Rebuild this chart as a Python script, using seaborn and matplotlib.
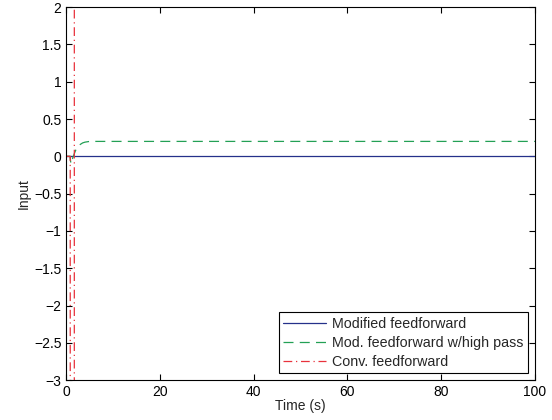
import numpy as np
import pandas as pd
import matplotlib
matplotlib.use('Agg')
import matplotlib.pyplot as plt
import seaborn as sns

# series
t_mod = [0, 100]
u_mod = [0, 0]

t_hp = [0, 0.8, 1.0, 1.2, 1.5, 2.0, 2.5, 3.0, 3.5, 4.0, 5.0, 6.0, 100]
u_hp = [0, 0, -0.1, -0.06, 0.0, 0.08, 0.13, 0.16, 0.18, 0.19, 0.2, 0.2, 0.2]

t_conv = [0, 0.85, 0.9, 1.7, 1.75]
u_conv = [0, 0, -40, -40, 40]

labels = ['Modified feedforward', 'Mod. feedforward w/high pass', 'Conv. feedforward']

sns.set_style('ticks')
plt.rcParams['font.family'] = ['Liberation Sans', 'DejaVu Sans']
plt.rcParams['xtick.direction'] = 'in'
plt.rcParams['ytick.direction'] = 'in'

fig = plt.figure(figsize=(5.52, 4.2), dpi=100)
ax = fig.add_axes([0.12, 0.095, 0.849, 0.888])

sns.lineplot(x=t_mod, y=u_mod, ax=ax, color='#25318a', lw=0.9, label=labels[0])
sns.lineplot(x=t_hp, y=u_hp, ax=ax, color='#23a055', lw=0.9, label=labels[1],
             linestyle=(0, (8, 5)))
sns.lineplot(x=t_conv, y=u_conv, ax=ax, color='#e8323c', lw=0.9, label=labels[2],
             linestyle=(0, (7, 3, 1, 3)))

ax.set_xlim(0, 100)
ax.set_ylim(-3, 2)
ax.set_xticks(np.arange(0, 101, 20))
ax.set_yticks(np.arange(-3, 2.01, 0.5))
ax.set_yticklabels(['\u22123', '\u22122.5', '\u22122', '\u22121.5', '\u22121', '\u22120.5',
                    '0', '0.5', '1', '1.5', '2'])
ax.tick_params(top=True, right=True, labelsize=10, length=4, width=0.8, colors='black')
for s in ax.spines.values():
    s.set_linewidth(0.8)
    s.set_color('black')
ax.set_xlabel('Time (s)', fontsize=10, labelpad=0)
ax.set_ylabel('Input', fontsize=10, labelpad=2)

leg = ax.legend(loc='lower right', fontsize=10.3, frameon=True, fancybox=False,
                edgecolor='black', framealpha=1, borderpad=0.3, labelspacing=0.35,
                handlelength=3.0, handletextpad=0.4, borderaxespad=0.5)
leg.get_frame().set_linewidth(0.8)

fig.savefig('out.png', dpi=100, facecolor='white')
